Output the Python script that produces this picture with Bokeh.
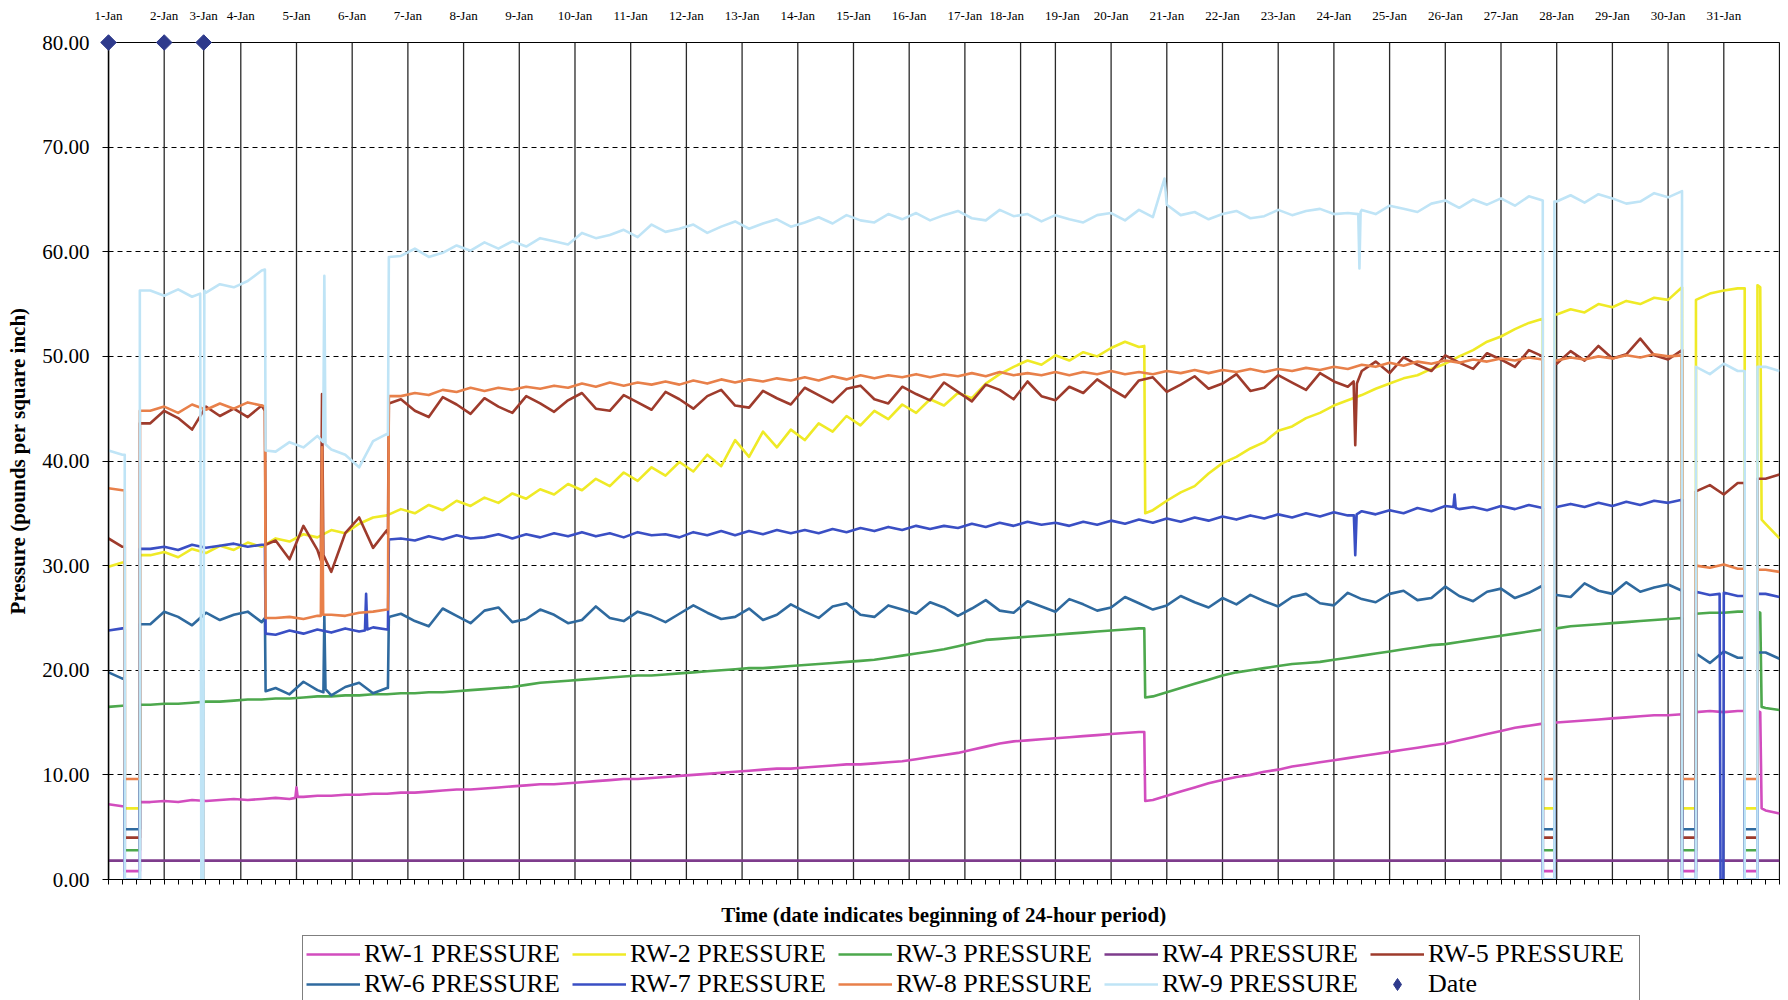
from bokeh.plotting import figure
from bokeh.layouts import column
from bokeh.models import (Range1d, FixedTicker, LinearAxis, Legend, LegendItem,
                          PrintfTickFormatter)
from bokeh.embed import file_html
from bokeh.resources import INLINE

# ---------------- data ----------------
DATE_LABELS = ["1-Jan", "2-Jan", "3-Jan", "4-Jan", "5-Jan", "6-Jan", "7-Jan", "8-Jan",
               "9-Jan", "10-Jan", "11-Jan", "12-Jan", "13-Jan", "14-Jan", "15-Jan",
               "16-Jan", "17-Jan", "18-Jan", "19-Jan", "20-Jan", "21-Jan", "22-Jan",
               "23-Jan", "24-Jan", "25-Jan", "26-Jan", "27-Jan", "28-Jan", "29-Jan",
               "30-Jan", "31-Jan"]
# sample index at which each day begins (hourly samples, some days short)
DATE_X = [0, 24, 41, 57, 81, 105, 129, 153, 177, 201, 225, 249, 273, 297, 321, 345,
          369, 393, 408, 432, 456, 480, 504, 528, 552, 576, 600, 624, 648, 672, 696]
# where the date captions sit along the top (18/19-Jan captions are spread apart)
DATE_LABEL_X = [0, 24, 41, 57, 81, 105, 129, 153, 177, 201, 225, 249, 273, 297, 321,
                345, 369, 387, 411, 432, 456, 480, 504, 528, 552, 576, 600, 624, 648,
                672, 696]
END_X = 720
DATE_LEVEL = 80
DATE_MARKER_X = [0, 24, 41]
Y_TICKS = [0, 10, 20, 30, 40, 50, 60, 70, 80]
GRID_X = list(range(0, 721, 6))          # readings every 6 samples
OUTAGES = [(7, 13.5), (618, 623), (678, 684), (705, 710.5)]

NAMES = ["RW-1 PRESSURE", "RW-2 PRESSURE", "RW-3 PRESSURE", "RW-4 PRESSURE",
         "RW-5 PRESSURE", "RW-6 PRESSURE", "RW-7 PRESSURE", "RW-8 PRESSURE",
         "RW-9 PRESSURE"]
COLORS = ["#D24DBE", "#EFEA26", "#4DA84D", "#7E3C8C", "#9E3B2C", "#2F6A9F",
          "#3A4FC4", "#E8804A", "#BFE4F6"]
DATE_COLOR = "#2E3A8C"
OUTAGE_LEVEL = [0.8, 6.8, 2.8, None, 4.0, 4.8, 0.0, 9.6, 0.0]

RW1_Y = [7.2, 7.0, 0.8, 7.4, 7.5, 7.4, 7.6, 7.5, 7.6, 7.7,
         7.6, 7.7, 7.8, 7.7, 7.9, 8.0, 8.0, 8.1, 8.1, 8.2,
         8.2, 8.3, 8.3, 8.4, 8.5, 8.6, 8.6, 8.7, 8.8, 8.9,
         9.0, 9.1, 9.1, 9.2, 9.3, 9.4, 9.5, 9.6, 9.6, 9.7,
         9.8, 9.9, 10.0, 10.1, 10.2, 10.3, 10.4, 10.5, 10.6, 10.6,
         10.7, 10.8, 10.9, 11.0, 11.0, 11.1, 11.2, 11.3, 11.5, 11.7,
         11.9, 12.1, 12.4, 12.7, 13.0, 13.2, 13.3, 13.4, 13.5, 13.6,
         13.7, 13.8, 13.9, 14.0, 14.1, 7.6, 8.0, 8.4, 8.8, 9.2,
         9.5, 9.8, 10.0, 10.3, 10.5, 10.8, 11.0, 11.2, 11.4, 11.6,
         11.8, 12.0, 12.2, 12.4, 12.6, 12.8, 13.0, 13.3, 13.6, 13.9,
         14.2, 14.5, 14.7, 14.9, 15.0, 15.1, 15.2, 15.3, 15.4, 15.5,
         15.6, 15.7, 15.7, 15.8, 16.0, 16.1, 16.0, 16.1, 0.8, 6.6,
         6.3]
RW1_EXTRA = [(80.5, 7.8), (81.0, 8.8), (81.5, 7.9), (446.3, 14.1), (446.7, 7.5),
             (710.6, 16.1), (711.7, 16.0), (712.3, 6.8)]

RW2_Y = [29.9, 30.3, 6.8, 31.0, 31.3, 30.8, 31.6, 31.2, 31.9, 31.5,
         32.2, 31.8, 32.6, 32.3, 33.0, 32.7, 33.4, 33.1, 34.0, 34.6,
         34.8, 35.4, 35.0, 35.8, 35.3, 36.2, 35.7, 36.5, 36.0, 36.9,
         36.4, 37.3, 36.8, 37.8, 37.2, 38.3, 37.6, 38.9, 38.1, 39.4,
         38.6, 39.9, 39.0, 40.6, 39.5, 42.0, 40.4, 42.8, 41.3, 43.0,
         42.0, 43.6, 42.8, 44.3, 43.4, 44.8, 44.0, 45.4, 44.6, 45.9,
         45.3, 46.5, 46.0, 47.4, 48.3, 49.0, 49.6, 49.2, 50.1, 49.6,
         50.4, 50.0, 50.8, 51.4, 50.9, 35.3, 36.2, 37.0, 37.6, 38.8,
         39.8, 40.4, 41.2, 41.8, 42.9, 43.3, 44.1, 44.6, 45.3, 45.8,
         46.3, 46.9, 47.4, 47.9, 48.2, 48.8, 49.3, 50.0, 50.6, 51.4,
         51.9, 52.6, 53.2, 53.6, 54.0, 54.5, 54.2, 55.0, 54.7, 55.3,
         55.0, 55.6, 55.4, 56.6, 55.4, 56.0, 56.3, 56.5, 6.8, 34.0,
         32.6]
RW2_EXTRA = [(446.3, 51.0), (446.7, 35.0), (710.6, 56.8), (711.7, 56.6), (712.3, 34.4)]

RW3_Y = [16.5, 16.6, 2.8, 16.7, 16.8, 16.8, 16.9, 17.0, 17.0, 17.1,
         17.2, 17.2, 17.3, 17.3, 17.4, 17.5, 17.5, 17.6, 17.6, 17.7,
         17.7, 17.8, 17.8, 17.9, 17.9, 18.0, 18.1, 18.2, 18.3, 18.4,
         18.6, 18.8, 18.9, 19.0, 19.1, 19.2, 19.3, 19.4, 19.5, 19.5,
         19.6, 19.7, 19.8, 19.9, 20.0, 20.1, 20.2, 20.2, 20.3, 20.4,
         20.5, 20.6, 20.7, 20.8, 20.9, 21.0, 21.2, 21.4, 21.6, 21.8,
         22.0, 22.3, 22.6, 22.9, 23.0, 23.1, 23.2, 23.3, 23.4, 23.5,
         23.6, 23.7, 23.8, 23.9, 24.0, 17.5, 17.9, 18.3, 18.7, 19.1,
         19.5, 19.8, 20.0, 20.2, 20.4, 20.6, 20.7, 20.8, 21.0, 21.2,
         21.4, 21.6, 21.8, 22.0, 22.2, 22.4, 22.5, 22.7, 22.9, 23.1,
         23.3, 23.5, 23.7, 23.9, 24.0, 24.2, 24.3, 24.4, 24.5, 24.6,
         24.7, 24.8, 24.9, 25.0, 25.4, 25.5, 25.5, 25.6, 2.8, 16.4,
         16.2]
RW3_EXTRA = [(446.3, 24.0), (446.7, 17.4), (710.6, 25.6), (711.7, 25.5), (712.3, 16.5)]

RW4_X = [0, 720]
RW4_Y = [1.8, 1.8]

RW5_Y = [32.6, 31.8, 4.0, 43.6, 44.8, 44.1, 43.0, 45.2, 44.3, 45.0,
         44.2, 45.3, 32.4, 30.6, 33.8, 31.5, 29.4, 33.1, 34.6, 31.7,
         33.4, 45.9, 44.8, 44.2, 46.1, 45.4, 44.5, 46.0, 45.2, 44.6,
         46.2, 45.5, 44.7, 45.8, 46.5, 45.0, 44.8, 46.3, 45.6, 44.9,
         46.6, 45.9, 45.0, 46.2, 46.8, 45.3, 45.1, 46.7, 46.0, 45.4,
         47.0, 46.3, 45.6, 46.9, 47.2, 45.9, 45.5, 47.1, 46.4, 45.8,
         47.5, 46.6, 45.7, 47.3, 46.8, 45.9, 47.6, 46.2, 45.8, 47.1,
         46.5, 47.8, 46.9, 46.1, 47.7, 48.0, 46.6, 47.3, 48.1, 46.9,
         47.4, 48.3, 46.7, 47.0, 48.2, 47.5, 46.8, 48.4, 47.6, 47.1,
         48.6, 49.5, 48.4, 49.9, 49.2, 48.6, 50.1, 49.4, 48.8, 50.3,
         49.7, 49.0, 50.6, 50.0, 49.3, 50.5, 49.6, 51.0, 49.8, 50.2,
         51.7, 50.1, 49.7, 50.6, 37.1, 37.7, 36.8, 37.9, 4.0, 38.3,
         38.7]
RW5_EXTRA = [(67.4, 44.8), (67.7, 32.0), (91.5, 30.5), (92.0, 46.4), (92.6, 31.0),
             (120.4, 33.0), (120.8, 45.5), (536.5, 47.6), (537.2, 41.5), (537.9, 47.4)]

RW6_Y = [19.8, 19.2, 4.8, 24.4, 25.6, 25.1, 24.3, 25.5, 24.8, 25.3,
         25.6, 24.6, 18.3, 17.7, 18.9, 18.1, 17.6, 18.4, 18.8, 17.8,
         18.3, 25.4, 24.7, 24.2, 25.9, 25.2, 24.5, 25.7, 26.0, 24.6,
         24.9, 25.8, 25.3, 24.5, 24.8, 26.1, 25.0, 24.7, 25.6, 25.2,
         24.6, 25.4, 26.2, 25.5, 24.9, 25.1, 25.9, 24.8, 25.3, 26.3,
         25.6, 25.0, 26.1, 26.4, 25.3, 25.1, 26.2, 25.8, 25.4, 26.5,
         26.0, 25.2, 25.9, 26.7, 25.7, 25.5, 26.6, 26.1, 25.6, 26.8,
         26.3, 25.7, 26.0, 27.0, 26.4, 25.8, 26.2, 27.1, 26.5, 26.0,
         26.9, 26.3, 27.2, 26.6, 26.1, 27.0, 27.3, 26.4, 26.2, 27.4,
         26.8, 26.5, 27.3, 27.6, 26.7, 26.9, 28.0, 27.1, 26.6, 27.5,
         27.8, 26.9, 27.4, 28.1, 27.2, 27.0, 28.3, 27.6, 27.3, 28.4,
         27.5, 27.9, 28.2, 27.6, 21.6, 20.7, 21.8, 21.2, 4.8, 21.7,
         21.1]
RW6_EXTRA = [(67.4, 25.0), (67.7, 18.0), (92.6, 17.9), (93.0, 25.2), (93.5, 18.2),
             (120.4, 18.3), (120.8, 25.1)]

RW7_Y = [23.8, 24.0, 0.0, 31.6, 31.8, 31.5, 32.0, 31.7, 31.9, 32.1,
         31.8, 32.0, 23.4, 23.8, 23.5, 23.9, 23.6, 24.0, 23.7, 24.1,
         23.9, 32.6, 32.4, 32.8, 32.5, 32.9, 32.6, 32.7, 33.0, 32.6,
         33.0, 32.7, 33.1, 32.8, 33.2, 32.8, 33.1, 32.7, 33.2, 32.9,
         33.0, 32.7, 33.2, 32.9, 33.3, 32.9, 33.3, 33.0, 33.4, 33.1,
         33.4, 33.1, 33.5, 33.2, 33.6, 33.3, 33.7, 33.4, 33.8, 33.5,
         33.8, 33.6, 34.0, 33.7, 34.1, 33.8, 34.2, 33.9, 34.1, 33.8,
         34.2, 33.9, 34.3, 34.0, 34.4, 34.1, 34.5, 34.2, 34.6, 34.3,
         34.7, 34.4, 34.8, 34.5, 34.9, 34.6, 35.0, 34.7, 35.1, 34.8,
         35.2, 34.9, 35.3, 35.0, 35.5, 35.2, 35.7, 35.4, 35.6, 35.3,
         35.7, 35.4, 35.8, 35.5, 35.6, 35.9, 35.6, 36.0, 35.7, 36.1,
         35.8, 36.2, 36.0, 36.3, 27.5, 27.2, 27.4, 27.1, 0.0, 27.3,
         27.0]
RW7_EXTRA = [(67.4, 32.0), (67.7, 23.5), (110.5, 23.8), (111.0, 27.3), (111.5, 23.9),
             (120.4, 23.9), (120.8, 32.5), (536.6, 34.8), (537.2, 31.0), (537.8, 34.9),
             (579.5, 35.6), (580.0, 36.8), (580.5, 35.5), (694.2, 27.3), (694.6, 0.0),
             (695.8, 0.0), (696.2, 27.4)]

RW8_Y = [37.4, 37.2, 9.6, 44.8, 45.2, 44.6, 45.4, 44.9, 45.5, 45.0,
         45.6, 45.3, 25.0, 25.1, 24.9, 25.2, 25.3, 25.2, 25.5, 25.6,
         25.8, 46.2, 46.5, 46.3, 46.8, 46.6, 47.0, 46.7, 47.0, 46.8,
         47.1, 46.9, 47.2, 47.0, 47.4, 47.1, 47.5, 47.2, 47.5, 47.3,
         47.6, 47.3, 47.7, 47.4, 47.8, 47.5, 47.8, 47.6, 47.9, 47.7,
         48.0, 47.7, 48.1, 47.8, 48.2, 47.9, 48.2, 48.0, 48.3, 48.0,
         48.3, 48.1, 48.4, 48.1, 48.5, 48.2, 48.4, 48.2, 48.5, 48.2,
         48.5, 48.3, 48.6, 48.3, 48.5, 48.3, 48.6, 48.4, 48.7, 48.4,
         48.7, 48.5, 48.8, 48.5, 48.8, 48.6, 48.9, 48.7, 49.0, 48.8,
         49.2, 49.0, 49.4, 49.1, 49.5, 49.3, 49.6, 49.4, 49.7, 49.5,
         49.8, 49.6, 49.9, 49.7, 49.6, 49.9, 49.7, 50.0, 49.8, 50.1,
         49.9, 50.2, 50.0, 50.1, 30.0, 29.8, 30.1, 29.7, 9.6, 29.6,
         29.4]
RW8_EXTRA = [(67.4, 45.2), (67.7, 25.0), (91.5, 25.2), (92.0, 41.3), (92.5, 25.3),
             (120.4, 25.8), (120.8, 46.2)]

RW9_Y = [41.0, 40.6, 0.0, 56.3, 55.8, 56.4, 55.7, 56.1, 56.9, 56.6,
         57.2, 58.2, 40.9, 41.8, 41.3, 42.4, 41.1, 40.6, 39.4, 41.9,
         42.6, 59.6, 60.3, 59.5, 59.9, 60.6, 60.1, 60.9, 60.3, 61.0,
         60.5, 61.3, 61.0, 60.7, 61.8, 61.3, 61.6, 62.1, 61.4, 62.6,
         61.9, 62.2, 62.6, 61.8, 62.4, 62.9, 62.2, 62.7, 63.1, 62.4,
         62.8, 63.3, 62.7, 63.5, 63.0, 62.8, 63.6, 63.1, 63.7, 63.0,
         63.5, 63.9, 63.2, 63.0, 64.0, 63.4, 63.6, 62.9, 63.5, 63.1,
         62.8, 63.5, 63.7, 63.0, 64.0, 63.3, 64.5, 63.5, 63.8, 63.1,
         63.6, 63.9, 63.2, 63.4, 64.0, 63.5, 63.9, 64.1, 63.6, 63.7,
         64.0, 63.6, 64.4, 64.1, 63.8, 64.6, 64.9, 64.2, 65.0, 64.5,
         65.1, 64.4, 65.3, 64.9, 64.8, 65.4, 64.7, 65.5, 65.1, 64.6,
         64.8, 65.6, 65.2, 65.8, 49.0, 48.3, 49.3, 48.6, 0.0, 49.0,
         48.6]
RW9_EXTRA = [(39.5, 56.0), (40.0, 0.0), (40.8, 0.0), (41.3, 56.3), (67.4, 58.3),
             (67.7, 41.0), (92.5, 41.8), (93.0, 57.7), (93.5, 41.6), (120.4, 42.5),
             (120.8, 59.5), (455.0, 67.0), (538.5, 63.6), (539.0, 58.4), (539.5, 63.8)]

SERIES_Y = [RW1_Y, RW2_Y, RW3_Y, None, RW5_Y, RW6_Y, RW7_Y, RW8_Y, RW9_Y]
SERIES_EXTRA = [RW1_EXTRA, RW2_EXTRA, RW3_EXTRA, None, RW5_EXTRA, RW6_EXTRA,
                RW7_EXTRA, RW8_EXTRA, RW9_EXTRA]


def build(grid_y, extra, level):
    pts = sorted(list(zip(GRID_X, grid_y)) + list(extra), key=lambda q: q[0])
    for a, b in OUTAGES:
        before = [q for q in pts if q[0] <= a]
        after = [q for q in pts if q[0] >= b]
        v0, v1 = before[-1][1], after[0][1]
        pts = before + [(a, v0), (a, level), (b, level), (b, v1)] + after
    return [q[0] for q in pts], [q[1] for q in pts]


# ---------------- main figure ----------------
SERIF = "Liberation Serif"
W = 1782
p = figure(width=W, height=935, x_range=Range1d(0, END_X), y_range=Range1d(0, 80),
           output_backend="svg", toolbar_location=None)
p.min_border_left = 108
p.min_border_right = 3
p.min_border_top = 42
p.min_border_bottom = 56
p.background_fill_color = "white"
p.border_fill_color = "white"
p.outline_line_color = "black"
p.outline_line_width = 1
p.outline_line_alpha = 1

ya = p.yaxis[0]
ya.ticker = FixedTicker(ticks=Y_TICKS)
ya.formatter = PrintfTickFormatter(format="%.2f")
ya.major_label_text_font = SERIF
ya.major_label_text_font_size = "21px"
ya.major_label_text_color = "black"
ya.major_tick_out = 6
ya.major_tick_in = 0
ya.major_label_standoff = 13
ya.minor_tick_line_color = None
ya.axis_line_width = 1.5
ya.axis_line_color = "black"
ya.axis_label = "Pressure (pounds per square inch)"
ya.axis_label_text_font = SERIF
ya.axis_label_text_font_style = "bold"
ya.axis_label_text_font_size = "21px"
ya.axis_label_text_color = "black"
ya.axis_label_standoff = 9

# bottom axis: only unlabeled tick marks every 6 samples
xa = p.xaxis[0]
xa.ticker = FixedTicker(ticks=[], minor_ticks=GRID_X)
xa.major_tick_line_color = None
xa.minor_tick_line_color = "black"
xa.minor_tick_out = 5
xa.minor_tick_in = 0
xa.axis_line_color = "black"
xa.axis_label = "Time (date indicates beginning of 24-hour period)"
xa.axis_label_text_font = SERIF
xa.axis_label_text_font_style = "bold"
xa.axis_label_text_font_size = "21px"
xa.axis_label_text_color = "black"
xa.axis_label_standoff = 18

top = LinearAxis(ticker=FixedTicker(ticks=DATE_LABEL_X),
                 major_label_overrides={x: lab for x, lab in zip(DATE_LABEL_X, DATE_LABELS)})
top.major_label_text_font = SERIF
top.major_label_text_font_size = "13px"
top.major_label_text_color = "black"
top.major_tick_line_color = None
top.minor_tick_line_color = None
top.axis_line_color = None
top.major_label_standoff = 14
p.add_layout(top, "above")

p.xgrid.visible = False
p.ygrid.ticker = FixedTicker(ticks=Y_TICKS[1:-1])
p.ygrid.grid_line_color = "black"
p.ygrid.grid_line_dash = "5 4"
p.ygrid.grid_line_width = 1

VX = DATE_X + [END_X]
p.segment(x0=VX, y0=[0] * len(VX), x1=VX, y1=[DATE_LEVEL] * len(VX),
          line_color="#2a2a2a", line_width=1.3)

for i, name in enumerate(NAMES):
    if SERIES_Y[i] is None:
        xs, ys = RW4_X, RW4_Y
    else:
        xs, ys = build(SERIES_Y[i], SERIES_EXTRA[i], OUTAGE_LEVEL[i])
    p.line(xs, ys, line_color=COLORS[i], line_width=2.6, line_join="round")

p.scatter(DATE_MARKER_X, [DATE_LEVEL] * len(DATE_MARKER_X), marker="square",
          angle=0.785398, size=11, fill_color=DATE_COLOR, line_color=DATE_COLOR,
          level="overlay")

# ---------------- legend strip ----------------
q = figure(width=W, height=65, x_range=Range1d(0, 1), y_range=Range1d(0, 1),
           output_backend="svg", toolbar_location=None,
           x_axis_location=None, y_axis_location=None)
q.min_border = 0
q.outline_line_color = None
q.xgrid.visible = False
q.ygrid.visible = False
q.background_fill_color = "white"
q.border_fill_color = "white"

# legend swatches: renderers whose points lie outside the strip's view
OFF = [5, 6]
items = []
for i, name in enumerate(NAMES):
    r = q.line(OFF, OFF, line_color=COLORS[i], line_width=2.6)
    items.append(LegendItem(label=name, renderers=[r]))
rd = q.scatter(OFF, OFF, marker="diamond", size=21,
               fill_color=DATE_COLOR, line_color=DATE_COLOR)
items.append(LegendItem(label="Date", renderers=[rd]))

legend = Legend(items=items, location=(194, -3), orientation="horizontal", ncols=5)
legend.label_text_font = SERIF
legend.label_text_font_size = "26px"
legend.label_text_color = "black"
legend.glyph_width = 54
legend.glyph_height = 30
legend.label_standoff = 4
legend.label_width = 208
legend.label_height = 30
legend.spacing = 0
legend.padding = 3
legend.margin = 0
legend.border_line_color = "black"
legend.border_line_width = 1
legend.background_fill_color = "white"
legend.background_fill_alpha = 1
q.add_layout(legend)

page = column(p, q, spacing=0)
open("out.html", "w").write(file_html(page, INLINE))
